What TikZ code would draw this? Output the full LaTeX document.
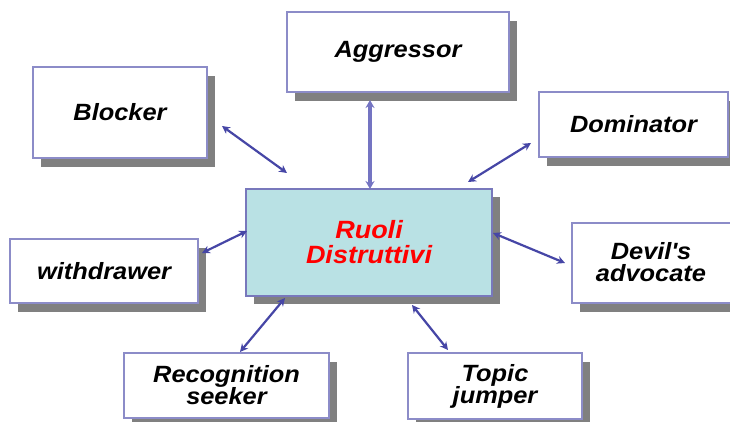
\documentclass[tikz,border=0pt]{standalone}
\usepackage{fontspec}
\setmainfont{Liberation Sans}[FakeStretch=1.08]
\usetikzlibrary{arrows.meta,shadows}
\definecolor{boxline}{HTML}{8C8CC8}
\definecolor{cenfill}{HTML}{B9E1E4}
\definecolor{cenline}{HTML}{7878BC}
\definecolor{shadowgray}{HTML}{808080}
\definecolor{arrowblue}{HTML}{4646A6}
\definecolor{arrowlight}{HTML}{7474C2}
\definecolor{redtext}{HTML}{FF0000}
\begin{document}
\begin{tikzpicture}[x=1pt,y=-1pt,
  rolebox/.style={draw=boxline,line width=1.4pt,fill=white,rectangle,inner sep=0pt,
    general shadow={shadow xshift=8pt,shadow yshift=-9pt,fill=shadowgray},
    font=\fontsize{23.5}{22}\selectfont\bfseries\itshape,align=center},
  rolelabel/.style={inner sep=0pt,font=\fontsize{23.5}{22}\selectfont\bfseries\itshape,align=center},
  link/.style={draw=arrowblue,line width=2.2pt,{Stealth[length=8pt,width=8pt]}-{Stealth[length=8pt,width=8pt]}},
  linkwide/.style={draw=arrowlight,line width=3.2pt,{Stealth[length=8pt,width=9pt]}-{Stealth[length=8pt,width=9pt]}}]
\useasboundingbox (0,0) rectangle (730,421);
% boxes
\node[rolebox,minimum width=174pt,minimum height=91pt] (blocker) at (120,112.5) {Blocker};
\node[rolebox,minimum width=222pt,minimum height=80pt] (aggressor) at (398,52) {Aggressor};
\node[rolebox,minimum width=189pt,minimum height=65pt] (dominator) at (633.5,124.5) {Dominator};
\node[rolebox,minimum width=188pt,minimum height=64pt] (withdrawer) at (104,271) {withdrawer};
\node[rolebox,minimum width=205pt,minimum height=65pt] (recognition) at (226.5,385.5) {Recognition\\seeker};
\node[rolebox,minimum width=174pt,minimum height=66pt] (topic) at (495,386) {Topic\\jumper};
\node[rolebox,minimum width=168pt,minimum height=80pt] (devil) at (656,263) {};
\node[rolelabel] (deviltext) at (651,262) {Devil\textquotesingle s\\advocate};
\node[draw=cenline,line width=1.4pt,fill=cenfill,rectangle,inner sep=0pt,
  minimum width=246pt,minimum height=107pt,
  general shadow={shadow xshift=8pt,shadow yshift=-8pt,fill=shadowgray},
  text=redtext,font=\fontsize{25}{25}\selectfont\bfseries\itshape,align=center]
  (center) at (369,242.5) {Ruoli\\Distruttivi};
% connector end points
\coordinate (b1) at (222,126); \coordinate (b2) at (287,173);
\coordinate (g1) at (370,100); \coordinate (g2) at (370,189);
\coordinate (d1) at (531,143); \coordinate (d2) at (468,182);
\coordinate (w1) at (202,253); \coordinate (w2) at (247,231);
\coordinate (r1) at (285,298); \coordinate (r2) at (240,352);
\coordinate (t1) at (412,305); \coordinate (t2) at (448,350);
\coordinate (v1) at (493,233); \coordinate (v2) at (565,263);
% connectors
\draw[link] (b1) -- (b2);
\draw[linkwide] (g1) -- (g2);
\draw[link] (d1) -- (d2);
\draw[link] (w1) -- (w2);
\draw[link] (r1) -- (r2);
\draw[link] (t1) -- (t2);
\draw[link] (v1) -- (v2);
\end{tikzpicture}
\end{document}
